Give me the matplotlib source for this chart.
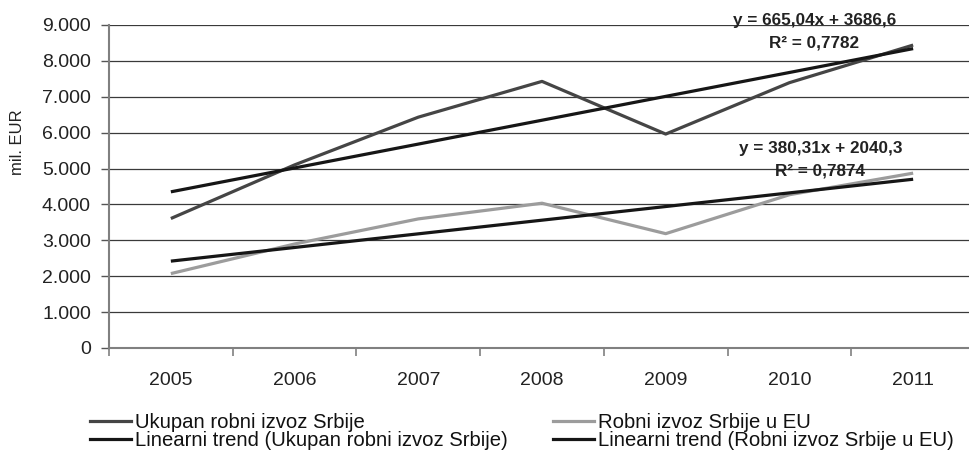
import matplotlib.pyplot as plt
import matplotlib.ticker as mticker
import matplotlib.lines as mlines

plt.rcParams['font.family'] = ['Liberation Sans', 'DejaVu Sans']

# data (mil. EUR)
years = ["2005", "2006", "2007", "2008", "2009", "2010", "2011"]
ukupan = [3608, 5102, 6432, 7429, 5961, 7393, 8441]
eu = [2073, 2898, 3597, 4034, 3186, 4271, 4872]

# trend equations as shown on the chart (x = 1..7)
trend_ukupan = (665.04, 3686.6, 0.7782)
trend_eu = (380.31, 2040.3, 0.7874)

labels = [
    "Ukupan robni izvoz Srbije",
    "Robni izvoz Srbije u EU",
    "Linearni trend (Ukupan robni izvoz Srbije)",
    "Linearni trend (Robni izvoz Srbije u EU)",
]

c_total = "#454545"
c_eu = "#9c9c9c"
c_trend = "#161616"


def fmt_thousands(v, pos):
    return f"{int(round(v)):,}".replace(",", ".")


def fmt_num(v, nd):
    return f"{v:.{nd}f}".replace(".", ",")


fig = plt.figure(figsize=(9.7, 4.5), dpi=100)
ax = fig.add_axes([109 / 970, 102 / 450, 866 / 970, 323 / 450])

x = list(range(len(years)))
xs = [i + 1 for i in x]
tr_u = [trend_ukupan[0] * v + trend_ukupan[1] for v in xs]
tr_e = [trend_eu[0] * v + trend_eu[1] for v in xs]

ax.plot(x, ukupan, color=c_total, lw=2.3, solid_capstyle="butt", zorder=3)
ax.plot(x, eu, color=c_eu, lw=2.3, solid_capstyle="butt", zorder=3)
ax.plot([x[0], x[-1]], [tr_u[0], tr_u[-1]], color=c_trend, lw=2.3,
        solid_capstyle="butt", zorder=4)
ax.plot([x[0], x[-1]], [tr_e[0], tr_e[-1]], color=c_trend, lw=2.3,
        solid_capstyle="butt", zorder=4)

ax.set_ylim(0, 9000)
ax.set_xlim(-0.5, 6.5)
ax.yaxis.set_major_locator(mticker.MultipleLocator(1000))
ax.yaxis.set_major_formatter(mticker.FuncFormatter(fmt_thousands))
ax.grid(axis="y", color="#3a3a3a", lw=0.9)
ax.set_axisbelow(True)

for s in ["top", "right"]:
    ax.spines[s].set_visible(False)
ax.spines["left"].set_color("#808080")
ax.spines["left"].set_linewidth(1.5)
ax.spines["bottom"].set_color("#808080")
ax.spines["bottom"].set_linewidth(1.5)

# category ticks between the categories, labels centred
ax.set_xticks([i - 0.5 for i in range(len(years) + 1)], minor=False)
ax.set_xticklabels([])
ax.set_xticks(x, minor=True)
ax.set_xticklabels(years, minor=True, fontsize=14, color="#222222")
ax.tick_params(axis="x", which="major", length=6, width=1.2, color="#808080",
               direction="out")
ax.tick_params(axis="x", which="minor", length=0, pad=17)
ax.tick_params(axis="y", length=6, width=1, color="#555555", labelsize=14,
               labelcolor="#222222", pad=7)

fig.text(18 / 970, 1 - 142 / 450, "mil. EUR", rotation=90, fontsize=12,
         color="#222222", ha="center", va="center")

# trend equations
ax.text(5.2, 9130, f"y = {fmt_num(trend_ukupan[0], 2)}x + {fmt_num(trend_ukupan[1], 1)}",
        ha="center", va="center", fontsize=12.3, fontweight="bold", color="#222222")
ax.text(5.2, 8500, f"R² = {fmt_num(trend_ukupan[2], 4)}",
        ha="center", va="center", fontsize=12.3, fontweight="bold", color="#222222")
ax.text(5.25, 5550, f"y = {fmt_num(trend_eu[0], 2)}x + {fmt_num(trend_eu[1], 1)}",
        ha="center", va="center", fontsize=12.3, fontweight="bold", color="#222222")
ax.text(5.25, 4920, f"R² = {fmt_num(trend_eu[2], 4)}",
        ha="center", va="center", fontsize=12.3, fontweight="bold", color="#222222")

# legend, two columns placed separately
h_total = mlines.Line2D([], [], color=c_total, lw=2.3)
h_eu = mlines.Line2D([], [], color=c_eu, lw=2.3)
h_tr1 = mlines.Line2D([], [], color=c_trend, lw=2.3)
h_tr2 = mlines.Line2D([], [], color=c_trend, lw=2.3)

leg_kw = dict(frameon=False, fontsize=14.6, handlelength=2.0, handletextpad=0.2,
              labelspacing=-0.05, borderpad=0, borderaxespad=0, loc="upper left")
leg1 = fig.legend([h_total, h_tr1], [labels[0], labels[2]],
                  bbox_to_anchor=(90 / 970, 1 - 413 / 450), **leg_kw)
leg2 = fig.legend([h_eu, h_tr2], [labels[1], labels[3]],
                  bbox_to_anchor=(553 / 970, 1 - 413 / 450), **leg_kw)
for leg in (leg1, leg2):
    for t in leg.get_texts():
        t.set_color("#111111")

fig.savefig("out.png", dpi=100)
